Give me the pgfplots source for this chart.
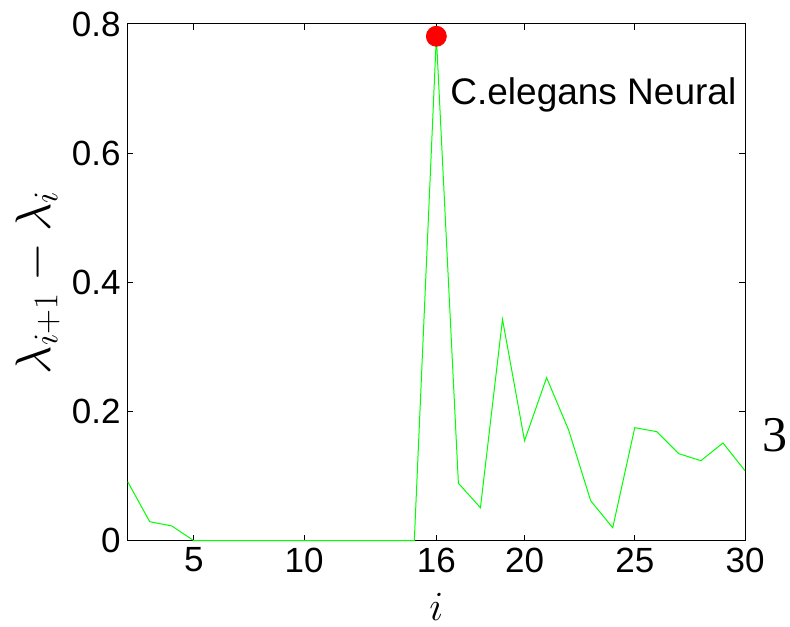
\documentclass[border=0pt]{standalone}
\usepackage{fontspec}
\setmainfont{Liberation Sans}
\newfontfamily\serifnum{Liberation Serif}
\usepackage{pgfplots}
\pgfplotsset{compat=1.18}
\definecolor{linegreen}{RGB}{0,255,0}
\begin{document}
\begin{tikzpicture}
\path[use as bounding box] (-63.85pt,-42.65pt) rectangle (331.15pt,270.35pt);
\begin{axis}[
  anchor=south west, at={(0pt,0pt)},
  scale only axis,
  width=308.65pt, height=258.35pt,
  xmin=2, xmax=30, ymin=0, ymax=0.8,
  xtick={5,10,16,20,25,30},
  ytick={0,0.2,0.4,0.6,0.8},
  yticklabels={0,0.2,0.4,0.6,0.8},
  tick align=inside,
  major tick length=2.8pt,
  tick style={black, line width=0.5pt},
  axis line style={black, line width=0.5pt},
  /pgf/number format/assume math mode=true,
  ticklabel style={font=\fontsize{17.5}{20}\selectfont},
  xlabel={$i$},
  ylabel={$\lambda_{i+1}-\lambda_i$},
  xlabel style={at={(axis description cs:0.5,-0.128)}, anchor=center, font=\fontsize{21}{24}\selectfont},
  ylabel style={at={(axis description cs:-0.146,0.5)}, anchor=center, font=\fontsize{23}{27}\selectfont},
  clip=false,
]
\addplot[linegreen, line width=0.5pt] coordinates {
(2,0.0913) (3,0.0294) (4,0.0228) (5,0) (6,0) (7,0) (8,0) (9,0) (10,0)
(11,0) (12,0) (13,0) (14,0) (15,0) (16,0.781) (17,0.0889) (18,0.0511)
(19,0.3428) (20,0.1548) (21,0.2524) (22,0.1714) (23,0.0619) (24,0.0201)
(25,0.175) (26,0.1688) (27,0.1347) (28,0.1239) (29,0.1513) (30,0.1084)
};
\addplot[only marks, mark=*, mark size=5pt, color=red, mark options={fill=red, draw=red}] coordinates {(16,0.781)};
\node[anchor=base west, inner sep=0pt, font=\fontsize{18.5}{22}\selectfont] at (axis cs:16.62,0.6746) {C.elegans Neural};
\node[anchor=center, inner sep=0pt, font=\serifnum\fontsize{25}{28}\selectfont] at (rel axis cs:1.0486,0.2046) {3};
\end{axis}
\end{tikzpicture}
\end{document}
